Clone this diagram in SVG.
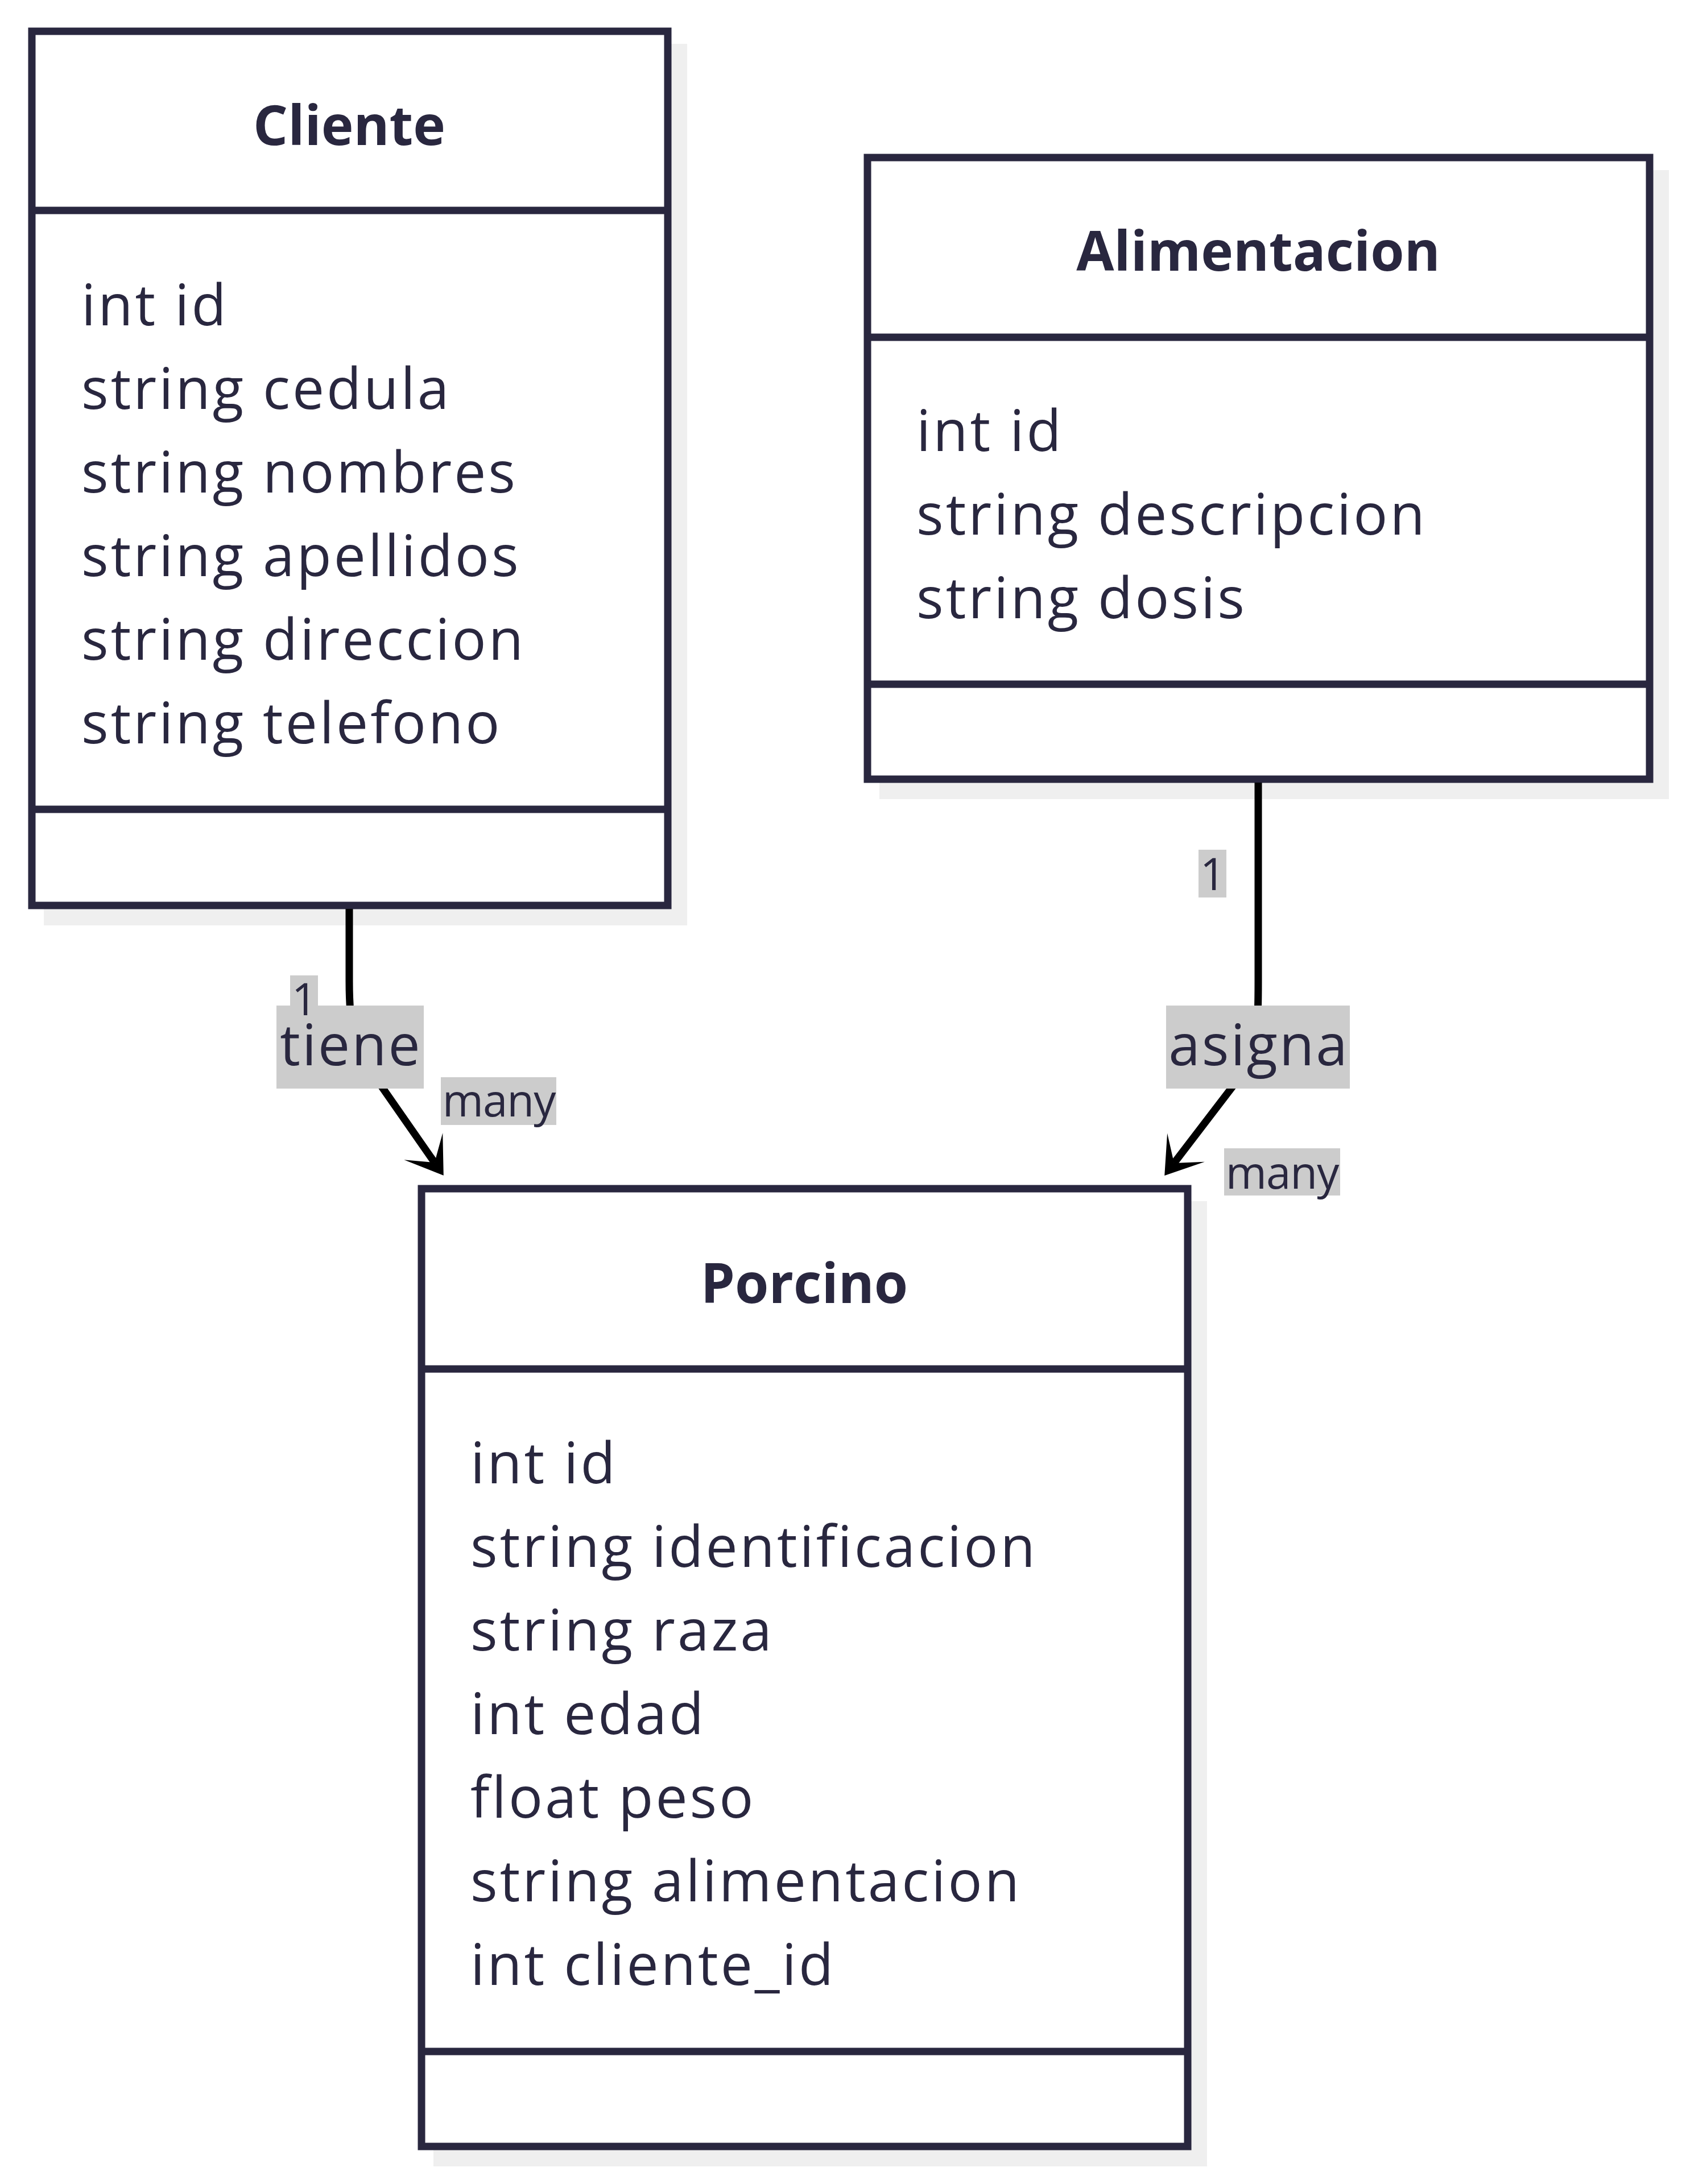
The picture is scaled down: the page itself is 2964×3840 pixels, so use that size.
<svg xmlns="http://www.w3.org/2000/svg" width="2964" height="3840" viewBox="0 0 2964 3840">
<defs>
<style>
.shadow{fill:#efefef;stroke:none}
.box{fill:#ffffff;stroke:#29273f;stroke-width:13}
.div{stroke:#29273f;stroke-width:13}
.title{font-family:"Open Sans","Noto Sans","Liberation Sans",sans-serif;font-weight:bold;font-size:96px;fill:#29273f;text-anchor:middle}
.mem{font-family:"Open Sans","Noto Sans","Liberation Sans",sans-serif;font-size:100px;letter-spacing:4px;fill:#29273f}
.lbl{font-family:"Open Sans","Noto Sans","Liberation Sans",sans-serif;font-size:100px;letter-spacing:3px;fill:#29273f;text-anchor:middle}
.card{font-family:"Open Sans","Noto Sans","Liberation Sans",sans-serif;font-size:78px;letter-spacing:-1px;fill:#29273f;text-anchor:middle}
.lblbg{fill:#cccccc}
.edge{fill:none;stroke:#000000;stroke-width:13}
</style>
<marker id="dep" markerUnits="userSpaceOnUse" viewBox="0 0 20 14" refX="14" refY="7" markerWidth="138" markerHeight="96.6" orient="auto">
<path d="M18,7 L9,13 L14,7 L9,1 Z" fill="#000000"/>
</marker>
</defs>
<rect width="2964" height="3840" fill="#ffffff"/>

<g id="node-Cliente">
<rect class="shadow" x="77" y="77" width="1131" height="1550"/>
<rect class="box" x="56" y="55" width="1118" height="1537"/>
<line class="div" x1="56" y1="370" x2="1174" y2="370"/>
<line class="div" x1="56" y1="1423" x2="1174" y2="1423"/>
<text class="title" x="614" y="255">Cliente</text>
<text class="mem" x="143" y="572">int id</text>
<text class="mem" x="143" y="719">string cedula</text>
<text class="mem" x="143" y="866">string nombres</text>
<text class="mem" x="143" y="1013">string apellidos</text>
<text class="mem" x="143" y="1160">string direccion</text>
<text class="mem" x="143" y="1307">string telefono</text>
</g>

<g id="node-Alimentacion">
<rect class="shadow" x="1546" y="299" width="1388" height="1106"/>
<rect class="box" x="1525" y="277" width="1375" height="1093"/>
<line class="div" x1="1525" y1="593" x2="2900" y2="593"/>
<line class="div" x1="1525" y1="1203" x2="2900" y2="1203"/>
<text class="title" x="2212" y="476">Alimentacion</text>
<text class="mem" x="1611" y="793">int id</text>
<text class="mem" x="1611" y="940">string descripcion</text>
<text class="mem" x="1611" y="1087">string dosis</text>
</g>

<g id="node-Porcino">
<rect class="shadow" x="762" y="2112" width="1360" height="1697"/>
<rect class="box" x="741" y="2090" width="1347" height="1684"/>
<line class="div" x1="741" y1="2407" x2="2088" y2="2407"/>
<line class="div" x1="741" y1="3607" x2="2088" y2="3607"/>
<text class="title" x="1414" y="2291">Porcino</text>
<text class="mem" x="827" y="2608">int id</text>
<text class="mem" x="827" y="2755">string identificacion</text>
<text class="mem" x="827" y="2902">string raza</text>
<text class="mem" x="827" y="3049">int edad</text>
<text class="mem" x="827" y="3196">float peso</text>
<text class="mem" x="827" y="3343">string alimentacion</text>
<text class="mem" x="827" y="3490">int cliente_id</text>
</g>

<g id="connectors">
<path class="edge" d="M614,1598 L614,1725 C614,1790 620,1830 640,1866 L764,2044" marker-end="url(#dep)"/>
<path class="edge" d="M2212,1376 L2212,1725 C2212,1790 2210,1840 2201,1866 L2064,2045" marker-end="url(#dep)"/>
</g>

<g id="labels">
<rect class="lblbg" x="486" y="1768" width="259" height="146"/>
<text class="lbl" x="617" y="1873">tiene</text>
<rect class="lblbg" x="510" y="1715" width="49" height="84"/>
<text class="card" x="534.5" y="1785">1</text>
<rect class="lblbg" x="775" y="1894" width="203" height="84"/>
<text class="card" x="877" y="1963">many</text>

<rect class="lblbg" x="2107" y="1494" width="49" height="84"/>
<text class="card" x="2131.5" y="1565">1</text>
<rect class="lblbg" x="2050" y="1768" width="323" height="146"/>
<text class="lbl" x="2213" y="1873">asigna</text>
<rect class="lblbg" x="2152" y="2019" width="204" height="83"/>
<text class="card" x="2254" y="2090">many</text>
</g>
</svg>
